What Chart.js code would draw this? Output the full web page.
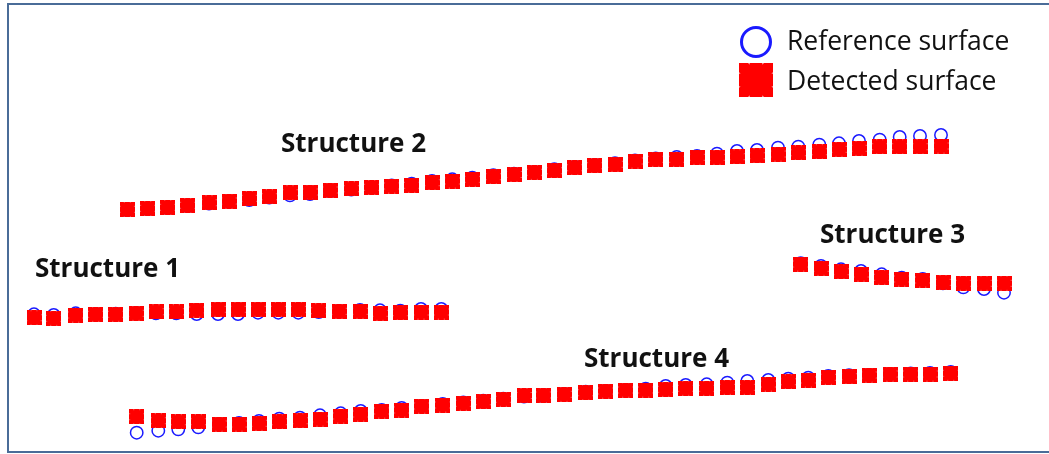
<!DOCTYPE html>
<html><head><meta charset="utf-8">
<script src="https://cdn.jsdelivr.net/npm/chart.js@4.4.1/dist/chart.umd.min.js"></script>
<style>html,body{margin:0;padding:0;background:#fff;overflow:hidden}#wrap{width:1049px;height:454px;position:relative}</style>
</head><body><div id="wrap"><canvas id="c" width="1049" height="454"></canvas></div>
<script>
// ---- Data (x: position, y: depth) ----
const s1X = [3.40, 5.37, 7.57, 9.57, 11.57, 13.60, 15.60, 17.63, 19.67, 21.80, 23.80, 25.80, 27.83, 29.83, 31.87, 33.90, 36.00, 38.00, 40.03, 42.10, 44.13];
const s1Detected = [31.77, 31.83, 31.50, 31.43, 31.43, 31.33, 31.17, 31.17, 31.00, 30.93, 30.93, 30.93, 30.93, 30.93, 31.07, 31.13, 31.13, 31.33, 31.27, 31.20, 31.20];
const s1Reference = [31.43, 31.50, 31.33, 31.40, 31.37, 31.30, 31.33, 31.33, 31.40, 31.40, 31.40, 31.27, 31.27, 31.27, 31.20, 31.10, 31.00, 31.03, 31.07, 30.90, 30.90];

const s2X = [12.73, 14.77, 16.77, 18.77, 20.90, 22.90, 24.93, 26.93, 29.00, 31.00, 33.00, 35.13, 37.17, 39.17, 41.17, 43.20, 45.23, 47.23, 49.33, 51.40, 53.43, 55.43, 57.47, 59.47, 61.50, 63.50, 65.57, 67.67, 69.70, 71.70, 73.70, 75.70, 77.80, 79.83, 81.93, 83.90, 85.90, 87.97, 89.97, 92.00, 94.10];
const s2Detected = [20.93, 20.83, 20.73, 20.53, 20.27, 20.10, 19.83, 19.67, 19.27, 19.20, 19.00, 18.87, 18.73, 18.60, 18.53, 18.27, 18.10, 17.93, 17.67, 17.45, 17.23, 17.07, 16.77, 16.57, 16.43, 16.10, 15.93, 15.93, 15.73, 15.73, 15.67, 15.57, 15.40, 15.27, 15.17, 14.93, 14.83, 14.67, 14.67, 14.67, 14.60];
const s2Reference = [21.00, 20.90, 20.80, 20.60, 20.35, 20.15, 20.00, 19.75, 19.53, 19.40, 19.10, 18.95, 18.75, 18.55, 18.37, 18.10, 17.93, 17.77, 17.53, 17.37, 17.20, 16.93, 16.70, 16.50, 16.33, 16.05, 15.85, 15.70, 15.60, 15.37, 15.10, 15.00, 14.77, 14.67, 14.47, 14.33, 14.10, 13.97, 13.70, 13.60, 13.50];

const s3X = [80.07, 82.10, 84.10, 86.10, 88.17, 90.17, 92.27, 94.30, 96.33, 98.40, 100.40];
const s3Detected = [26.40, 26.83, 27.17, 27.40, 27.73, 27.90, 28.00, 28.23, 28.33, 28.33, 28.33];
const s3Reference = [26.33, 26.60, 26.93, 27.10, 27.43, 27.77, 27.90, 28.33, 28.73, 28.90, 29.27];

const s4X = [13.67, 15.83, 17.83, 19.83, 21.90, 23.90, 25.90, 27.93, 30.00, 32.00, 34.07, 36.07, 38.17, 40.17, 42.17, 44.27, 46.33, 48.33, 50.33, 52.40, 54.33, 56.40, 58.57, 60.57, 62.57, 64.57, 66.57, 68.57, 70.67, 72.73, 74.73, 76.83, 78.83, 80.83, 82.83, 84.90, 86.90, 89.00, 91.07, 93.00, 95.07];
const s4Detected = [41.67, 42.07, 42.17, 42.17, 42.40, 42.40, 42.33, 42.17, 42.07, 41.90, 41.60, 41.40, 41.10, 41.00, 40.60, 40.50, 40.33, 40.17, 39.93, 39.55, 39.50, 39.43, 39.27, 39.10, 39.00, 39.00, 38.93, 38.83, 38.83, 38.73, 38.73, 38.40, 38.17, 38.00, 37.73, 37.67, 37.50, 37.40, 37.40, 37.40, 37.33];
const s4Reference = [43.27, 43.07, 42.93, 42.73, 42.40, 42.30, 42.10, 41.87, 41.77, 41.53, 41.33, 41.10, 41.00, 40.80, 40.60, 40.40, 40.25, 40.07, 39.87, 39.65, 39.60, 39.40, 39.17, 39.10, 39.00, 38.87, 38.60, 38.50, 38.43, 38.27, 38.10, 38.00, 37.87, 37.77, 37.60, 37.53, 37.50, 37.40, 37.35, 37.30, 37.20];

const structureNames = ["Structure 1", "Structure 2", "Structure 3", "Structure 4"];
const structureLabelX = [3.5, 28.1, 82.0, 58.4];
const structureLabelY = [27.7, 15.2, 24.3, 36.7];
const seriesNames = ["Reference surface", "Detected surface"];
const xRange = [0, 104.9];
const depthRange = [0, 45.4];

// ---- helpers ----
function toPoints(xs, ys){ return xs.map((x,i)=>({x:x, y:ys[i]})); }
function makeStar(size, color){
  const c = document.createElement('canvas');
  c.width = size; c.height = size;
  const g = c.getContext('2d');
  g.translate(size/2, size/2);
  g.strokeStyle = color;
  g.fillStyle = color;
  const h = size/2;
  g.beginPath();
  const r = h*0.72;
  g.rect(-r, -r, 2*r, 2*r);
  g.fill();
  g.lineWidth = size*0.38;
  g.lineCap = 'butt';
  const segs = [[-h,0,h,0],[0,-h,0,h],[-h,-h,h,h],[-h,h,h,-h]];
  segs.forEach(s=>{ g.beginPath(); g.moveTo(s[0],s[1]); g.lineTo(s[2],s[3]); g.stroke(); });
  return c;
}
const RED = '#ff0000', BLUE = '#1a1aff';
const starSmall = makeStar(15, RED);
const starLarge = makeStar(34, RED);

const refData = [].concat(toPoints(s1X,s1Reference), toPoints(s2X,s2Reference), toPoints(s3X,s3Reference), toPoints(s4X,s4Reference));
const detData = [].concat(toPoints(s1X,s1Detected), toPoints(s2X,s2Detected), toPoints(s3X,s3Detected), toPoints(s4X,s4Detected));

const decorPlugin = {
  id: 'decor',
  afterDraw(chart){
    const ctx = chart.ctx;
    const xs = chart.scales.x, ys = chart.scales.y;
    ctx.save();
    ctx.strokeStyle = '#4a6c98';
    ctx.lineWidth = 2;
    ctx.beginPath();
    ctx.moveTo(1060, 4); ctx.lineTo(8, 4); ctx.lineTo(8, 452); ctx.lineTo(1060, 452);
    ctx.stroke();
    ctx.fillStyle = '#111';
    ctx.font = 'bold 26px "Open Sans"';
    ctx.textBaseline = 'alphabetic';
    ctx.textAlign = 'left';
    structureNames.forEach((n,i)=>{
      ctx.fillText(n, xs.getPixelForValue(structureLabelX[i]), ys.getPixelForValue(structureLabelY[i]));
    });
    const lx = 756, ly = [42, 80], tx = 787;
    ctx.strokeStyle = BLUE; ctx.lineWidth = 3;
    ctx.beginPath(); ctx.arc(lx, ly[0], 14.5, 0, Math.PI*2); ctx.stroke();
    ctx.drawImage(starLarge, lx - 17, ly[1] - 17);
    ctx.fillStyle = '#111';
    ctx.font = '500 26.5px "Open Sans"';
    ctx.textBaseline = 'middle';
    ctx.fillText(seriesNames[0], tx, ly[0]);
    ctx.fillText(seriesNames[1], tx, ly[1] + 2);
    ctx.restore();
  }
};

new Chart(document.getElementById('c'), {
  type: 'scatter',
  data: {
    datasets: [
      { label: seriesNames[1], data: detData, order: 0, pointStyle: starSmall, pointRadius: 7, pointHoverRadius: 7, backgroundColor: RED, borderColor: RED },
      { label: seriesNames[0], data: refData, order: 1, pointStyle: 'circle', pointRadius: 6.2, pointHoverRadius: 6.2, borderWidth: 1.5, pointBorderWidth: 1.5, backgroundColor: 'rgba(0,0,0,0)', borderColor: BLUE }
    ]
  },
  options: {
    responsive: false,
    animation: false,
    events: [],
    layout: { padding: 0, autoPadding: false },
    plugins: { legend: { display: false }, tooltip: { enabled: false } },
    scales: {
      x: { type: 'linear', display: false, min: xRange[0], max: xRange[1] },
      y: { type: 'linear', display: false, min: depthRange[0], max: depthRange[1], reverse: true }
    }
  },
  plugins: [decorPlugin]
});
</script>
</body></html>
